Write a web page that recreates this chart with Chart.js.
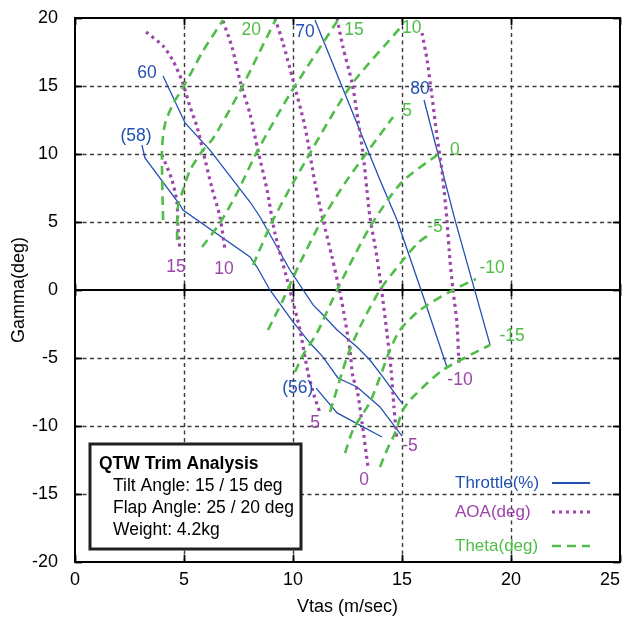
<!DOCTYPE html>
<html><head><meta charset="utf-8">
<script src="https://cdn.jsdelivr.net/npm/chart.js@4/dist/chart.umd.min.js"></script>
<style>html,body{margin:0;padding:0;background:#fff}#wrap{width:627px;height:628px;position:relative}</style>
</head><body><div id="wrap"><canvas id="c" width="627" height="628"></canvas></div>
<script>
// ---- axis ticks ----
const xTickVals = [0, 5, 10, 15, 20, 25];
const yTickVals = [-20, -15, -10, -5, 0, 5, 10, 15, 20];

// ---- Throttle (%) curves ----
const thr56X = [11.06, 12.02, 14.08];
const thr56Y = [-7.21, -9.04, -10.81];
const thr58X = [3.07, 3.21, 4.82, 4.95, 8.03, 8.35, 8.94, 10.0, 10.78, 11.38, 12.06, 12.94, 13.99, 15.0];
const thr58Y = [10.66, 9.71, 6.25, 5.88, 2.43, 1.69, 0.0, -2.35, -3.90, -4.93, -6.47, -7.13, -8.60, -10.74];
const thr60X = [4.04, 5.05, 6.19, 8.03, 8.49, 9.86, 10.92, 11.38, 12.02, 12.94, 13.53, 14.13, 15.0];
const thr60Y = [15.74, 12.28, 10.29, 6.47, 5.37, 1.47, -1.10, -1.84, -2.94, -4.19, -5.15, -6.40, -8.31];
const thr70X = [11.01, 13.99, 14.77, 15.92, 17.06];
const thr70Y = [19.85, 8.09, 5.15, -0.22, -5.66];
const thr80X = [16.01, 17.43, 19.04];
const thr80Y = [13.97, 5.15, -4.04];

// ---- AOA (deg) curves ----
const aoa15X = [3.99, 4.45, 4.68, 4.72, 4.82];
const aoa15Y = [9.93, 8.09, 6.40, 4.63, 2.94];
const aoa10X = [3.26, 4.04, 4.50, 4.91, 5.28, 5.60, 5.87, 6.28, 6.65, 6.88];
const aoa10Y = [18.97, 17.94, 16.84, 15.37, 13.46, 11.99, 10.22, 7.50, 5.37, 2.94];
const aoa5X = [6.79, 7.20, 7.57, 8.03, 8.39, 8.81, 9.17, 9.86, 10.32, 10.69, 10.96, 11.24];
const aoa5Y = [19.78, 17.87, 15.37, 12.94, 10.29, 7.35, 4.19, 0.0, -2.94, -6.10, -7.72, -9.04];
const aoa0X = [9.17, 9.54, 10.0, 10.55, 11.01, 11.38, 11.79, 12.16, 12.39, 12.61, 12.75, 12.94, 13.17, 13.44];
const aoa0Y = [20.0, 18.16, 15.44, 11.99, 7.87, 5.15, 2.43, -0.22, -2.21, -4.41, -6.40, -7.35, -9.78, -13.01];
const aoaM5X = [12.02, 12.29, 12.71, 12.98, 13.21, 13.39, 13.53, 13.85, 14.08, 14.31, 14.50, 14.63, 14.77];
const aoaM5Y = [20.0, 17.87, 15.22, 12.50, 10.07, 7.35, 5.37, 2.43, -0.22, -3.16, -5.88, -8.60, -11.03];
const aoaM10X = [15.92, 16.15, 16.38, 16.61, 16.83, 16.93, 17.06, 17.20, 17.34, 17.52, 17.61];
const aoaM10Y = [18.90, 16.91, 14.19, 11.25, 8.82, 7.35, 5.15, 2.21, 0.0, -2.43, -5.37];

// ---- Theta (deg) curves ----
const th20X = [4.04, 3.99, 4.13, 4.50, 5.05, 5.87, 6.79];
const th20Y = [5.15, 10.29, 12.21, 13.68, 15.15, 17.57, 19.85];
const thBX = [4.68, 4.72, 4.91, 5.28, 5.87, 6.28, 6.65, 7.57, 8.35, 9.22];
const thBY = [3.68, 6.10, 7.13, 8.82, 10.29, 11.03, 11.99, 14.63, 17.13, 19.93];
const th15X = [5.83, 6.65, 7.43, 8.39, 9.86, 12.06];
const th15Y = [3.16, 4.93, 7.13, 10.29, 14.41, 19.85];
const th10X = [8.17, 9.04, 10.0, 12.61, 14.91];
const th10Y = [1.84, 5.0, 7.87, 14.93, 19.26];
const th5X = [8.85, 9.54, 10.23, 11.33, 12.48, 14.59];
const th5Y = [-2.94, -0.74, 1.69, 5.15, 8.09, 12.72];
const th0X = [10.09, 10.46, 11.10, 12.02, 13.53, 15.0, 16.74];
const th0Y = [-6.03, -4.78, -3.16, 0.0, 4.63, 7.94, 10.07];
const thM5X = [11.70, 12.48, 13.07, 13.99, 15.05, 15.73, 16.15];
const thM5Y = [-8.97, -4.93, -2.72, 0.0, 2.21, 3.46, 3.97];
const thM10X = [12.39, 12.75, 13.53, 13.99, 14.45, 14.91, 15.83, 17.34, 18.39];
const thM10Y = [-11.99, -10.29, -8.24, -6.40, -4.41, -2.94, -1.47, 0.0, 0.81];
const thM15X = [13.99, 14.31, 14.68, 15.05, 15.50, 16.88, 19.04];
const thM15Y = [-13.01, -11.76, -10.51, -8.82, -7.87, -5.88, -4.04];

// ---- curve labels ----
const curveLabelText = ['60', '(58)', '70', '80', '(56)',
  '20', '15', '10', '5', '0', '-5', '-10', '-15',
  '15', '10', '5', '0', '-5', '-10'];
const curveLabelKind = ['thr', 'thr', 'thr', 'thr', 'thr',
  'theta', 'theta', 'theta', 'theta', 'theta', 'theta', 'theta', 'theta',
  'aoa', 'aoa', 'aoa', 'aoa', 'aoa', 'aoa'];
const curveLabelX = [3.30, 2.80, 10.55, 15.83, 10.22,
  8.08, 12.80, 15.45, 15.23, 17.43, 16.51, 19.13, 20.05,
  4.63, 6.83, 11.01, 13.26, 15.37, 17.66];
const curveLabelY = [15.96, 11.33, 18.97, 14.80, -7.21,
  19.12, 19.12, 19.26, 13.16, 10.29, 4.63, 1.62, -3.38,
  1.69, 1.54, -9.78, -13.97, -11.47, -6.62];

// ---- legend / info box text ----
const legendNames = ['Throttle(%)', 'AOA(deg)', 'Theta(deg)'];
const infoTitle = 'QTW Trim Analysis';
const infoLines = ['Tilt Angle: 15 / 15 deg', 'Flap Angle: 25 / 20 deg', 'Weight: 4.2kg'];

const FONT = "'Liberation Sans', Arial, Helvetica, sans-serif";
const COL = { thr: '#2350b3', aoa: '#9c45aa', theta: '#4fbd47' };
const STY = {
  thr: { w: 1.3, dash: [] },
  aoa: { w: 3.2, dash: [3, 4] },
  theta: { w: 2.6, dash: [9, 6] }
};

function pts(xs, ys) { return xs.map((x, i) => ({ x: x, y: ys[i] })); }
function ds(xs, ys, kind, tension) {
  return {
    data: pts(xs, ys), showLine: true, pointRadius: 0, borderColor: COL[kind],
    borderWidth: STY[kind].w, borderDash: STY[kind].dash, tension: tension, fill: false
  };
}

const datasets = [
  ds(th20X, th20Y, 'theta', 0.25), ds(thBX, thBY, 'theta', 0.25), ds(th15X, th15Y, 'theta', 0.25),
  ds(th10X, th10Y, 'theta', 0.25), ds(th5X, th5Y, 'theta', 0.25), ds(th0X, th0Y, 'theta', 0.25),
  ds(thM5X, thM5Y, 'theta', 0.25), ds(thM10X, thM10Y, 'theta', 0.25), ds(thM15X, thM15Y, 'theta', 0.25),
  ds(aoa15X, aoa15Y, 'aoa', 0.25), ds(aoa10X, aoa10Y, 'aoa', 0.25), ds(aoa5X, aoa5Y, 'aoa', 0.25),
  ds(aoa0X, aoa0Y, 'aoa', 0.25), ds(aoaM5X, aoaM5Y, 'aoa', 0.25), ds(aoaM10X, aoaM10Y, 'aoa', 0.25),
  ds(thr56X, thr56Y, 'thr', 0), ds(thr58X, thr58Y, 'thr', 0), ds(thr60X, thr60Y, 'thr', 0),
  ds(thr70X, thr70Y, 'thr', 0), ds(thr80X, thr80Y, 'thr', 0)
];

const decor = {
  id: 'decor',
  beforeDatasetsDraw(chart) {
    const { ctx, chartArea: a, scales: { x, y } } = chart;
    ctx.save();
    ctx.strokeStyle = '#3a3a3a';
    ctx.lineWidth = 1.4;
    ctx.setLineDash([4, 3.5]);
    xTickVals.forEach(v => {
      if (v === xTickVals[0] || v === xTickVals[xTickVals.length - 1]) return;
      const px = Math.round(x.getPixelForValue(v)) + 0.5;
      ctx.beginPath(); ctx.moveTo(px, a.top); ctx.lineTo(px, a.bottom); ctx.stroke();
    });
    yTickVals.forEach(v => {
      if (v === 0 || v === yTickVals[0] || v === yTickVals[yTickVals.length - 1]) return;
      const py = Math.round(y.getPixelForValue(v)) + 0.5;
      ctx.beginPath(); ctx.moveTo(a.left, py); ctx.lineTo(a.right, py); ctx.stroke();
    });
    ctx.setLineDash([]);
    ctx.strokeStyle = '#000';
    ctx.lineWidth = 2;
    const p0 = Math.round(y.getPixelForValue(0));
    ctx.beginPath(); ctx.moveTo(a.left, p0); ctx.lineTo(a.right, p0); ctx.stroke();
    ctx.lineWidth = 1.8;
    xTickVals.forEach(v => {
      const px = Math.round(x.getPixelForValue(v)) + 0.5;
      ctx.beginPath(); ctx.moveTo(px, p0 - 6); ctx.lineTo(px, p0 + 6); ctx.stroke();
    });
    ctx.restore();
  },
  afterDatasetsDraw(chart) {
    const { ctx, chartArea: a, scales: { x, y } } = chart;
    ctx.save();
    // frame
    ctx.strokeStyle = '#000';
    ctx.lineWidth = 2;
    ctx.strokeRect(a.left, a.top, a.right - a.left, a.bottom - a.top);
    // inward ticks
    ctx.lineWidth = 1.8;
    xTickVals.forEach(v => {
      const px = Math.round(x.getPixelForValue(v)) + 0.5;
      ctx.beginPath(); ctx.moveTo(px, a.bottom); ctx.lineTo(px, a.bottom - 7); ctx.stroke();
      ctx.beginPath(); ctx.moveTo(px, a.top); ctx.lineTo(px, a.top + 7); ctx.stroke();
    });
    yTickVals.forEach(v => {
      const py = Math.round(y.getPixelForValue(v)) + 0.5;
      ctx.beginPath(); ctx.moveTo(a.left, py); ctx.lineTo(a.left + 7, py); ctx.stroke();
      ctx.beginPath(); ctx.moveTo(a.right, py); ctx.lineTo(a.right - 7, py); ctx.stroke();
    });
    // x tick labels (kept inside the canvas)
    ctx.fillStyle = '#000';
    ctx.font = '18px ' + FONT;
    ctx.textAlign = 'center';
    ctx.textBaseline = 'middle';
    const cw = chart.width;
    xTickVals.forEach(v => {
      const t = String(v);
      const w = ctx.measureText(t).width;
      let px = x.getPixelForValue(v);
      px = Math.min(px, cw - 7 - w / 2);
      ctx.fillText(t, px, a.bottom + 18);
    });
    // curve labels
    ctx.font = '17.5px ' + FONT;
    curveLabelText.forEach((t, i) => {
      ctx.fillStyle = COL[curveLabelKind[i]];
      ctx.fillText(t, x.getPixelForValue(curveLabelX[i]), y.getPixelForValue(curveLabelY[i]));
    });
    // info box
    ctx.fillStyle = '#fff';
    ctx.fillRect(90, 444, 211, 105);
    ctx.strokeStyle = '#231f20';
    ctx.lineWidth = 3;
    ctx.strokeRect(90, 444, 211, 105);
    ctx.fillStyle = '#000';
    ctx.textAlign = 'left';
    ctx.textBaseline = 'alphabetic';
    ctx.font = 'bold 17.5px ' + FONT;
    ctx.fillText(infoTitle, 99, 469);
    ctx.font = '17.5px ' + FONT;
    infoLines.forEach((t, i) => ctx.fillText(t, 113, 491 + i * 22));
    // legend
    const kinds = ['thr', 'aoa', 'theta'];
    const ly = [483, 512, 546];
    ctx.font = '17px ' + FONT;
    ctx.textBaseline = 'middle';
    kinds.forEach((k, i) => {
      ctx.fillStyle = COL[k];
      ctx.fillText(legendNames[i], 455, ly[i]);
      ctx.strokeStyle = COL[k];
      ctx.lineWidth = k === 'thr' ? 2 : STY[k].w;
      ctx.setLineDash(STY[k].dash);
      ctx.beginPath(); ctx.moveTo(552, ly[i]); ctx.lineTo(590, ly[i]); ctx.stroke();
    });
    ctx.setLineDash([]);
    ctx.restore();
  }
};

new Chart(document.getElementById('c'), {
  type: 'scatter',
  data: { datasets: datasets },
  options: {
    responsive: false,
    animation: false,
    devicePixelRatio: 1,
    layout: { padding: { left: 0, top: 18, right: 7, bottom: 0 } },
    plugins: { legend: { display: false }, tooltip: { enabled: false } },
    scales: {
      x: {
        type: 'linear', min: 0, max: 25,
        afterBuildTicks: s => { s.ticks = xTickVals.map(v => ({ value: v })); },
        afterFit: s => { s.height = 66; s.paddingLeft = 0; s.paddingRight = 0; },
        grid: { display: false, drawTicks: false },
        border: { display: false },
        ticks: { display: false },
        title: { display: true, text: 'Vtas (m/sec)', font: { family: FONT, size: 18 }, color: '#000', padding: { top: 0, bottom: 10 } }
      },
      y: {
        type: 'linear', min: -20, max: 20,
        afterBuildTicks: s => { s.ticks = yTickVals.map(v => ({ value: v })); },
        afterFit: s => { s.width = 75; s.paddingTop = 0; s.paddingBottom = 0; },
        grid: { display: false, drawTicks: false },
        border: { display: false },
        ticks: { font: { family: FONT, size: 18 }, color: '#000', padding: 17 },
        title: { display: true, text: 'Gamma(deg)', font: { family: FONT, size: 18 }, color: '#000', padding: { top: 8, bottom: 0 } }
      }
    }
  },
  plugins: [decor]
});
</script>
</body></html>
